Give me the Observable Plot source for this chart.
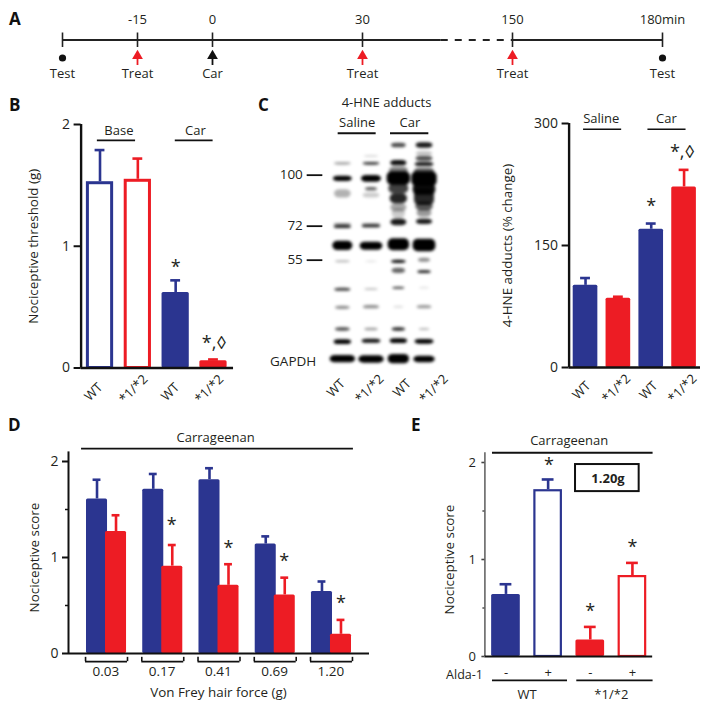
<!DOCTYPE html>
<html>
<head>
<meta charset="utf-8">
<script src="https://cdn.jsdelivr.net/npm/d3@7"></script>
<script src="https://cdn.jsdelivr.net/npm/@observablehq/plot@0.6"></script>
<style>
html,body{margin:0;padding:0;background:#fff}
#page{position:relative;width:712px;height:709px;overflow:hidden;font-family:"Open Sans",sans-serif;color:#231f20}
#page svg{position:absolute;overflow:visible}
.letter{position:absolute;font:700 17px "Open Sans",sans-serif;color:#111;line-height:1}
</style>
</head>
<body>
<div id="page"></div>
<script>
// ---------- data ----------
const BLUE = "#2b3590", RED = "#ed1c24", INK = "#231f20";

const timeEvents = [-30, -15, 0, 30, 150, 180];
const timeLabels = ["", "-15", "0", "30", "150", "180min"];
const eventNames = ["Test", "Treat", "Car", "Treat", "Treat", "Test"];
const eventKinds = ["dot", "arrowRed", "arrowBlack", "arrowRed", "arrowRed", "dot"];

const genotypes = ["WT", "*1/*2", "WT", "*1/*2"];
const bValues = [1.53, 1.55, 0.62, 0.06];
const bTops = [1.79, 1.72, 0.72, 0.07];
const cValues = [101, 85, 170, 222];
const cTops = [110, 87, 177, 243];
const forces = ["0.03", "0.17", "0.41", "0.69", "1.20"];
const dWT = [1.61, 1.71, 1.81, 1.14, 0.645];
const dWTTops = [1.81, 1.87, 1.93, 1.22, 0.75];
const dMut = [1.27, 0.91, 0.71, 0.61, 0.2];
const dMutTops = [1.44, 1.13, 0.93, 0.79, 0.35];
const eValues = [0.64, 1.72, 0.17, 0.835];
const eTops = [0.745, 1.825, 0.305, 0.965];
const aldaSigns = ["-", "+", "-", "+"];

const markerLabels = ["100", "72", "55"];
const markerPos = [254, 407, 509];
// blot bands per lane: [position, half width, thickness, darkness]
const lane1 = [[220,25,8,.35],[265,28,16,1],[310,25,25,.3],[403,26,8,.45],[410,26,8,.9],[466,30,28,1],[514,22,6,.3],[598,24,9,.75],[652,22,10,.45],[717,22,10,.7],[755,26,14,1],[806,38,22,1]];
const lane2 = [[198,22,5,.2],[220,25,8,.8],[265,30,20,1],[296,18,10,.65],[315,25,15,.2],[403,28,8,.4],[408,28,8,.9],[467,34,24,1],[514,18,5,.12],[597,20,6,.25],[650,24,10,.45],[717,20,8,.4],[752,28,12,.95],[807,38,22,1]];
const lane3 = [[165,22,14,.7],[218,24,16,.95],[240,28,20,.5],[264,35,40,1],[295,30,30,.75],[325,26,30,.85],[352,24,24,.35],[370,20,30,.2],[396,24,20,.9],[463,32,36,1],[514,22,10,.95],[541,20,16,.6],[593,18,6,.8],[650,15,6,.15],[717,20,10,.85],[752,26,14,1],[806,32,28,1]];
const lane4 = [[165,25,16,.9],[190,24,12,.25],[205,25,14,.7],[222,28,12,.9],[243,30,20,.6],[266,38,44,1],[297,34,34,.95],[320,30,50,.85],[348,26,26,.65],[368,22,24,.4],[394,24,16,.9],[465,34,38,1],[509,18,12,.45],[545,20,8,.9],[593,15,5,.12],[650,22,10,.4],[717,16,6,.3],[754,28,14,1],[807,32,20,1]];
const laneCenters = [262, 348, 430, 507];
const lanes = [lane1, lane2, lane3, lane4];

// ---------- helpers ----------
const FONT = '"Open Sans",sans-serif';
const page = document.getElementById("page");

function panel(box, xPx, xDom, yPx, yDom, marks, extraStyle) {
  const [l, t, w, h] = box;
  const svg = Plot.plot({
    width: w, height: h,
    marginLeft: xPx[0] - l, marginRight: l + w - xPx[1],
    marginTop: yPx[0] - t, marginBottom: t + h - yPx[1],
    x: {domain: xDom, axis: null},
    y: {domain: yDom, axis: null},
    color: {type: "identity"},
    style: Object.assign({background: "transparent", fontFamily: FONT, color: INK}, extraStyle || {}),
    marks
  });
  svg.style.left = l + "px";
  svg.style.top = t + "px";
  page.appendChild(svg);
}

const label = (s, x, y, o = {}) => Plot.text([s], {x: () => x, y: () => y, text: d => d, fontSize: 13, fill: INK, ...o});
const star = (s, x, y, o = {}) => label(s, x, y, {fontSize: 18, ...o});
const hline = (x1, x2, y, o = {}) => Plot.ruleY([y], {x1: () => x1, x2: () => x2, y: d => d, stroke: "#111", strokeWidth: 1.8, ...o});

function bars(rows, halfW, cap) {
  const sw = rows[0].sw || 3, ins = sw / 2;
  return [
    Plot.ruleX(rows, {x: "x", y1: "v", y2: "top", stroke: "color", strokeWidth: 2.6}),
    Plot.ruleY(rows, {x1: d => d.x - cap, x2: d => d.x + cap, y: "top", stroke: "color", strokeWidth: 2.6}),
    Plot.rectY(rows.filter(d => !d.hollow), {x1: d => d.x - halfW, x2: d => d.x + halfW, y1: () => 0, y2: "v", fill: "color", rx: 1.5}),
    Plot.rectY(rows.filter(d => d.hollow), {x1: d => d.x - halfW, x2: d => d.x + halfW, y1: () => 0, y2: "v", fill: "white", stroke: "color", strokeWidth: sw, insetLeft: ins, insetRight: ins, insetTop: ins})
  ];
}
function rowsOf(values, tops, colors, hollow) {
  return values.map((v, i) => ({x: i + 0.5, v, top: tops[i], color: colors[i], hollow: hollow[i]}));
}
function axis(ticks, o = {}) {
  return Plot.axisY({ticks, tickSize: 7, tickPadding: 4, fontSize: 14, label: null, stroke: "#111", strokeWidth: 2, tickFormat: d => String(d), ...o});
}
const rotated = (items) => items.map(d => Plot.text([d], {x: () => d.x, y: () => 0, text: () => d.t, rotate: -45, dy: d.dy, fontSize: 13, fill: INK}));
function ylabel(s, dx) {
  return Plot.text([s], {frameAnchor: "left", textAnchor: "middle", dx, rotate: -90, text: d => d, fontSize: 13.4, fill: INK});
}

// ---------- panel letters ----------
[["A",9,10],["B",9,96],["C",258,96],["D",8,416],["E",411,416]].forEach(([t,x,y]) => {
  const d = document.createElement("div");
  d.className = "letter"; d.textContent = t; d.style.left = x + "px"; d.style.top = y + "px";
  page.appendChild(d);
});

// ---------- panel A ----------
{
  const ev = timeEvents.map((t, i) => ({t, lab: timeLabels[i], name: eventNames[i], kind: eventKinds[i],
    color: eventKinds[i] === "arrowRed" ? RED : "#111"}));
  const arrows = ev.filter(d => d.kind !== "dot");
  const svg = Plot.plot({
    width: 680, height: 76, margin: 0,
    x: {type: "linear", domain: timeEvents, range: [62, 137, 212, 362, 512, 662].map(p => p - 20), axis: null},
    y: {domain: [84, 8], range: [76, 0], axis: null},
    color: {type: "identity"},
    style: {background: "transparent", fontFamily: FONT},
    marks: [
      Plot.ruleY([39.5], {x1: () => -30, x2: () => 93, y: d => d, stroke: "#222", strokeWidth: 2}),
      Plot.ruleY([39.5], {x1: () => 93, x2: () => 150, y: d => d, stroke: "#222", strokeWidth: 2, strokeDasharray: "7,7"}),
      Plot.ruleY([39.5], {x1: () => 150, x2: () => 180, y: d => d, stroke: "#222", strokeWidth: 2}),
      Plot.ruleX(ev, {x: "t", y1: () => 32.5, y2: () => 47, stroke: "#222", strokeWidth: 1.6}),
      Plot.text(ev, {x: "t", y: () => 19, text: "lab", fontSize: 13, fill: INK}),
      Plot.dot(ev.filter(d => d.kind === "dot"), {x: "t", y: () => 57.5, r: 3.6, fill: "#111"}),
      Plot.ruleX(arrows, {x: "t", y1: () => 56, y2: () => 65, stroke: "color", strokeWidth: 1.8}),
      Plot.dot(arrows, {x: "t", y: () => 55.5, symbol: "triangle", r: 4, fill: "color"}),
      Plot.text(ev, {x: "t", y: () => 73, text: "name", fontSize: 13, fill: INK})
    ]
  });
  svg.style.left = "20px"; svg.style.top = "8px";
  page.appendChild(svg);
}

// ---------- panel B ----------
{
  const rows = rowsOf(bValues, bTops, [BLUE, RED, BLUE, RED], [true, true, false, false]);
  panel([24,110,225,300], [80.6,231.9], [0,4], [124,367.5], [0,2], [
    ...bars(rows, 0.36, 0.13),
    Plot.ruleX([0], {y1: () => 0, y2: () => 2, stroke: "#111", strokeWidth: 2.4}),
    Plot.ruleY([0], {x1: () => 0, x2: () => 4.03, stroke: "#111", strokeWidth: 2.4}),
    axis([0,1,2]),
    ylabel("Nociceptive threshold (g)", -47),
    label("Base", 1, 1.945),
    label("Car", 3.02, 1.945),
    hline(0.43, 1.44, 1.87, {strokeWidth: 1.6}),
    hline(2.49, 3.49, 1.87, {strokeWidth: 1.6}),
    star("*", 2.5, 0.83),
    star("*,◊", 3.52, 0.2),
    ...rotated(genotypes.map((t, i) => ({t, x: [0.33, 1.385, 2.36, 3.39][i], dy: i % 2 ? 21 : 24})))
  ]);
}

// ---------- panel C: blot ----------
{
  const bands = lanes.flatMap((lane, i) => lane.map(([p, w, t, k]) => ({
    x1: laneCenters[i] - w, x2: laneCenters[i] + w, y1: p - t / 2, y2: p + t / 2, k
  })));
  const box = [262, 92, 190, 310];
  panel(box, [262, 452], [21, 591], [92, 402], [936, 6], [
    Plot.rect(bands, {x1: "x1", x2: "x2", y1: "y1", y2: "y2", fill: "black", fillOpacity: "k", rx: 5, mixBlendMode: "multiply"})
  ], {filter: "blur(1.5px)"});
  panel(box, [262, 452], [21, 591], [92, 402], [936, 6], [
    label("4-HNE adducts", 393, 36),
    label("Saline", 305, 97),
    label("Car", 463, 97),
    hline(248, 362, 128, {strokeWidth: 2}),
    hline(405, 520, 128, {strokeWidth: 2}),
    Plot.text(markerLabels, {x: () => 142, y: (d, i) => markerPos[i], text: d => d, textAnchor: "end", fontSize: 13.5, fill: INK}),
    Plot.ruleY(markerPos, {x1: () => 155, x2: () => 202, y: d => d, stroke: "#111", strokeWidth: 1.8}),
    label("GAPDH", 113, 815, {fontSize: 13.5}),
    Plot.text(genotypes, {x: (d, i) => [242, 342, 440, 535][i], y: (d, i) => [893, 895, 893, 895][i], text: d => d, rotate: -45, fontSize: 13, fill: INK})
  ]);
}

// ---------- panel C: bars ----------
{
  const rows = rowsOf(cValues, cTops, [BLUE, RED, BLUE, RED], [false, false, false, false]);
  panel([495,105,217,300], [568.6,700], [0,4], [123,367], [0,300], [
    ...bars(rows, 0.375, 0.15),
    Plot.ruleX([0], {y1: () => 0, y2: () => 300, stroke: "#111", strokeWidth: 2.4}),
    Plot.ruleY([0], {x1: () => 0, x2: () => 4, stroke: "#111", strokeWidth: 2.4}),
    axis([0,150,300]),
    ylabel("4-HNE adducts (% change)", -61),
    label("Saline", 0.98, 306),
    label("Car", 2.96, 306),
    hline(0.44, 1.6, 293, {strokeWidth: 1.6}),
    hline(2.4, 3.56, 293, {strokeWidth: 1.6}),
    star("*", 2.5, 198),
    star("*,◊", 3.45, 265),
    ...rotated(genotypes.map((t, i) => ({t, x: [0.38, 1.44, 2.42, 3.45][i], dy: i % 2 ? 21 : 23})))
  ]);
}

// ---------- panel D ----------
{
  const wt = forces.map((f, i) => ({x: i + 0.5 - 0.169, v: dWT[i], top: dWTTops[i], color: BLUE}));
  const mut = forces.map((f, i) => ({x: i + 0.5 + 0.169, v: dMut[i], top: dMutTops[i], color: RED}));
  const stars = [[1.66,1.34],[2.67,1.1],[3.66,0.96],[4.67,0.52]];
  panel([24,425,350,284], [68,369], [-0.176,5.176], [461,653], [0,2], [
    ...bars(wt, 0.187, 0.07),
    ...bars(mut, 0.187, 0.07),
    Plot.ruleX([-0.176], {y1: () => 0, y2: () => 2.1, stroke: "#111", strokeWidth: 2}),
    Plot.ruleY([0], {x1: () => -0.176, x2: () => 5.176, stroke: "#111", strokeWidth: 2}),
    axis([0,1,2], {tickSize: 6}),
    axis([0.5,1.5], {tickSize: 3, tickFormat: () => "", strokeWidth: 1.5}),
    ylabel("Nociceptive score", -34),
    label("Carrageenan", 2.44, 2.25),
    hline(0.056, 4.89, 2.135, {strokeWidth: 1.8}),
    ...stars.map(([x, y]) => star("*", x, y)),
    ...forces.flatMap((f, i) => [
      hline(i + 0.5 - 0.373, i + 0.5 + 0.373, -0.085, {strokeWidth: 1.6}),
      Plot.ruleX([i + 0.5 - 0.373, i + 0.5 + 0.373], {x: d => d, y1: () => -0.04, y2: () => -0.085, stroke: "#111", strokeWidth: 1.6}),
      label(f, i + 0.49, -0.19, {fontSize: 13.5})
    ]),
    label("Von Frey hair force (g)", 2.49, -0.41, {fontSize: 13.4})
  ]);
}

// ---------- panel E ----------
{
  const rows = rowsOf(eValues, eTops, [BLUE, BLUE, RED, RED], [false, true, false, true]);
  rows.forEach(r => r.sw = 2.2);
  panel([435,425,277,284], [484.4,653], [0,4], [462,656], [0,2], [
    ...bars(rows, 0.34, 0.14),
    Plot.ruleX([0], {y1: () => 0, y2: () => 2.1, stroke: "#666", strokeWidth: 1.6}),
    Plot.ruleY([0], {x1: () => 0, x2: () => 3.98, stroke: "#111", strokeWidth: 2}),
    axis([0,1,2], {tickSize: 3, tickPadding: 6, fontSize: 13, stroke: "#444", strokeWidth: 1.6}),
    axis([0.5,1.5], {tickSize: 2, tickFormat: () => "", stroke: "#444", strokeWidth: 1.4}),
    ylabel("Nociceptive score", -35),
    label("Carrageenan", 2, 2.225),
    hline(0.18, 3.99, 2.1, {strokeWidth: 2}),
    star("*", 1.52, 1.97),
    star("*", 2.5, 0.464),
    star("*", 3.5, 1.124),
    Plot.rect([1], {x1: () => 2.15, x2: () => 3.66, y1: () => 1.70, y2: () => 1.979, fill: "white", stroke: "#111", strokeWidth: 2}),
    label("1.20g", 2.92, 1.835, {fontWeight: 700, fontSize: 13}),
    Plot.text(["Alda-1"], {x: () => 0, y: () => 0, dx: -2, dy: 18, text: d => d, textAnchor: "end", fontSize: 12.5, fill: INK}),
    Plot.text(aldaSigns, {x: (d, i) => i + 0.5, y: () => 0, dy: 16, text: d => d, fontSize: 13, fill: INK}),
    hline(0.18, 1.96, -0.247, {strokeWidth: 1.8}),
    hline(2.18, 3.99, -0.247, {strokeWidth: 1.8}),
    label("WT", 1, -0.4),
    label("*1/*2", 3, -0.4)
  ]);
}
</script>
</body>
</html>
